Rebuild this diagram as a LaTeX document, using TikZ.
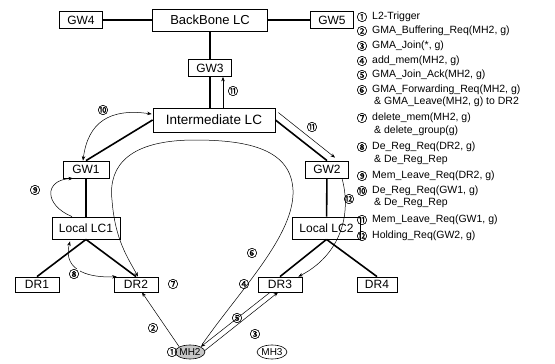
\documentclass[tikz,border=0pt]{standalone}
\usepackage{fontspec}
\setmainfont{Liberation Sans}
\newfontfamily\circfont[FakeBold=1.5]{Noto Sans CJK SC}
\usetikzlibrary{arrows.meta,positioning,shapes.geometric,calc}

\begin{document}
\begin{tikzpicture}[
  x=1pt, y=-1pt,
  >={Stealth[length=4.5pt,width=3.5pt]},
  box/.style={draw, line width=0.8pt, fill=white, inner sep=1pt,
              font=\fontsize{12}{12}\selectfont},
  gw/.style={box, minimum width=43pt, minimum height=17pt},
  lc/.style={box, minimum width=68pt, minimum height=22pt},
  dr/.style={box, minimum width=44pt, minimum height=15pt},
  mh/.style={draw, ellipse, line width=0.6pt, inner sep=0pt,
             minimum width=25pt, minimum height=14pt,
             font=\fontsize{10}{10}\selectfont},
  link/.style={line width=1.6pt},
  msg/.style={->, line width=0.5pt},
  num/.style={font=\circfont\fontsize{10.5}{10.5}\selectfont, inner sep=0.5pt},
  leg/.style={anchor=west, inner sep=0pt, font=\fontsize{10.5}{10.5}\selectfont}
]
\useasboundingbox (0,0) rectangle (555,364);

% network nodes, placed at the pixel positions of the layout
\node[gw] (gw4) at (81,20) {GW4};
\node[box, minimum width=115pt, minimum height=22pt, font=\fontsize{13}{13}\selectfont] (bb) at (210,20) {BackBone LC};
\node[gw] (gw5) at (332,20) {GW5};
\node[gw] (gw3) at (210,68) {GW3};
\node[box, minimum width=122pt, minimum height=24pt, font=\fontsize{13.5}{13.5}\selectfont] (inter) at (214,120) {Intermediate LC};
\node[gw, minimum width=46pt] (gw1) at (86,169.5) {GW1};
\node[gw] (gw2) at (327,169.5) {GW2};
\node[lc] (llc1) at (86,228) {Local LC1};
\node[lc] (llc2) at (326.5,228) {Local LC2};
\node[dr] (dr1) at (37,284.5) {DR1};
\node[dr] (dr2) at (136,284.5) {DR2};
\node[dr] (dr3) at (280,284.5) {DR3};
\node[dr, minimum width=40pt] (dr4) at (377,284.5) {DR4};
\node[mh, fill=gray!45] (mh2) at (190,352) {MH2};
\node[mh] (mh3) at (272,352) {MH3};

% wired links
\draw[link] (gw4) -- (bb);
\draw[link] (bb) -- (gw5);
\draw[link] (bb) -- (gw3);
\draw[link] (gw3) -- (gw3 |- inter.north);
\draw[link] (inter.west) -- (gw1.north);
\draw[link] (inter.east) -- (gw2.north);
\draw[link] (gw1) -- (llc1);
\draw[link] (gw2) -- (llc2);
\draw[link] (llc1.south) -- (dr1.north);
\draw[link] (llc1.south) -- (dr2.north);
\draw[link] (llc2.south) -- (dr3.north);
\draw[link] (llc2.south) -- (dr4.north);

% signalling messages
\draw[msg] ([xshift=9pt]inter.north) -- ([xshift=9pt]inter.north |- gw3.south);
\draw[msg] ($(inter.north east)+(3,5)$) -- ($(gw2.north)+(8,-3)$);
\draw[msg, <->] ($(gw1.north)+(-3,0)$) .. controls (88,122) and (110,108) .. ($(inter.west)+(-1,-6)$);
\draw[msg] ($(llc1.north)+(-14,0)$) .. controls (44,205) and (44,180) .. ($(gw1.south)+(-13,0)$);
\draw[msg, <->] ($(llc1.south)+(-16,2)$) .. controls (62,272) and (92,278) .. ($(dr2.north west)+(3,0)$);
\draw[msg] ($(gw2.south)+(15,0)$) .. controls (352,215) and (340,255) .. ($(dr3.north east)+(-4,0)$);
\draw[msg] ($(mh2.north)+(12,0)$) .. controls (240,290) and (295,235) .. (293,190)
  .. controls (291,150) and (250,140) .. (195,140)
  .. controls (130,140) and (108,165) .. (112,200)
  .. controls (115,240) and (128,258) .. ($(dr2.north)+(2,0)$);
\draw[msg] (mh2.north west) -- ($(dr2.south)+(6,0)$);
\draw[msg] ($(dr3.south)+(-10,0)$) -- (mh2.north east);
\draw[msg] ($(mh2.east)+(-1,-1)$) -- ($(dr3.south)+(-2,0)$);

% step numbers beside the messages
\node[num] (n1)  at (172,352) {①};
\node[num] (n2)  at (153,328) {②};
\node[num] (n3)  at (255,334) {③};
\node[num] (n4)  at (244,284) {④};
\node[num] (n5)  at (237,318) {⑤};
\node[num] (n6)  at (252,253) {⑥};
\node[num] (n7)  at (173,284) {⑦};
\node[num, fill=white] (n8) at (74,274) {⑧};
\node[num] (n9)  at (35,190) {⑨};
\node[num] (n10) at (103,110) {⑩};
\node[num] (n11a) at (233,91) {⑪};
\node[num] (n11b) at (312,127) {⑪};
\node[num] (n12) at (349,199) {⑫};

% legend
\node[num] (l1)  at (362,17)  {①}; \node[leg] at (372,17)  {L2-Trigger};
\node[num] (l2)  at (362,31)  {②}; \node[leg] at (372,31)  {GMA\_Buffering\_Req(MH2, g)};
\node[num] (l3)  at (362,46)  {③}; \node[leg] at (372,46)  {GMA\_Join(*, g)};
\node[num] (l4)  at (362,61)  {④}; \node[leg] at (372,61)  {add\_mem(MH2, g)};
\node[num] (l5)  at (362,75)  {⑤}; \node[leg] at (372,75)  {GMA\_Join\_Ack(MH2, g)};
\node[num] (l6)  at (362,90)  {⑥}; \node[leg] at (372,90)  {GMA\_Forwarding\_Req(MH2, g)};
                                   \node[leg] at (374,102) {\& GMA\_Leave(MH2, g) to DR2};
\node[num] (l7)  at (362,118) {⑦}; \node[leg] at (372,118) {delete\_mem(MH2, g)};
                                   \node[leg] at (374,131) {\& delete\_group(g)};
\node[num] (l8)  at (362,147) {⑧}; \node[leg] at (372,147) {De\_Reg\_Req(DR2, g)};
                                   \node[leg] at (374,160) {\& De\_Reg\_Rep};
\node[num] (l9)  at (362,176) {⑨}; \node[leg] at (372,176) {Mem\_Leave\_Req(DR2, g)};
\node[num] (l10) at (362,191) {⑩}; \node[leg] at (372,191) {De\_Reg\_Req(GW1, g)};
                                   \node[leg] at (374,203) {\& De\_Reg\_Rep};
\node[num] (l11) at (362,220) {⑪}; \node[leg] at (372,220) {Mem\_Leave\_Req(GW1, g)};
\node[num] (l12) at (362,236) {⑫}; \node[leg] at (372,236) {Holding\_Req(GW2, g)};

\end{tikzpicture}
\end{document}
